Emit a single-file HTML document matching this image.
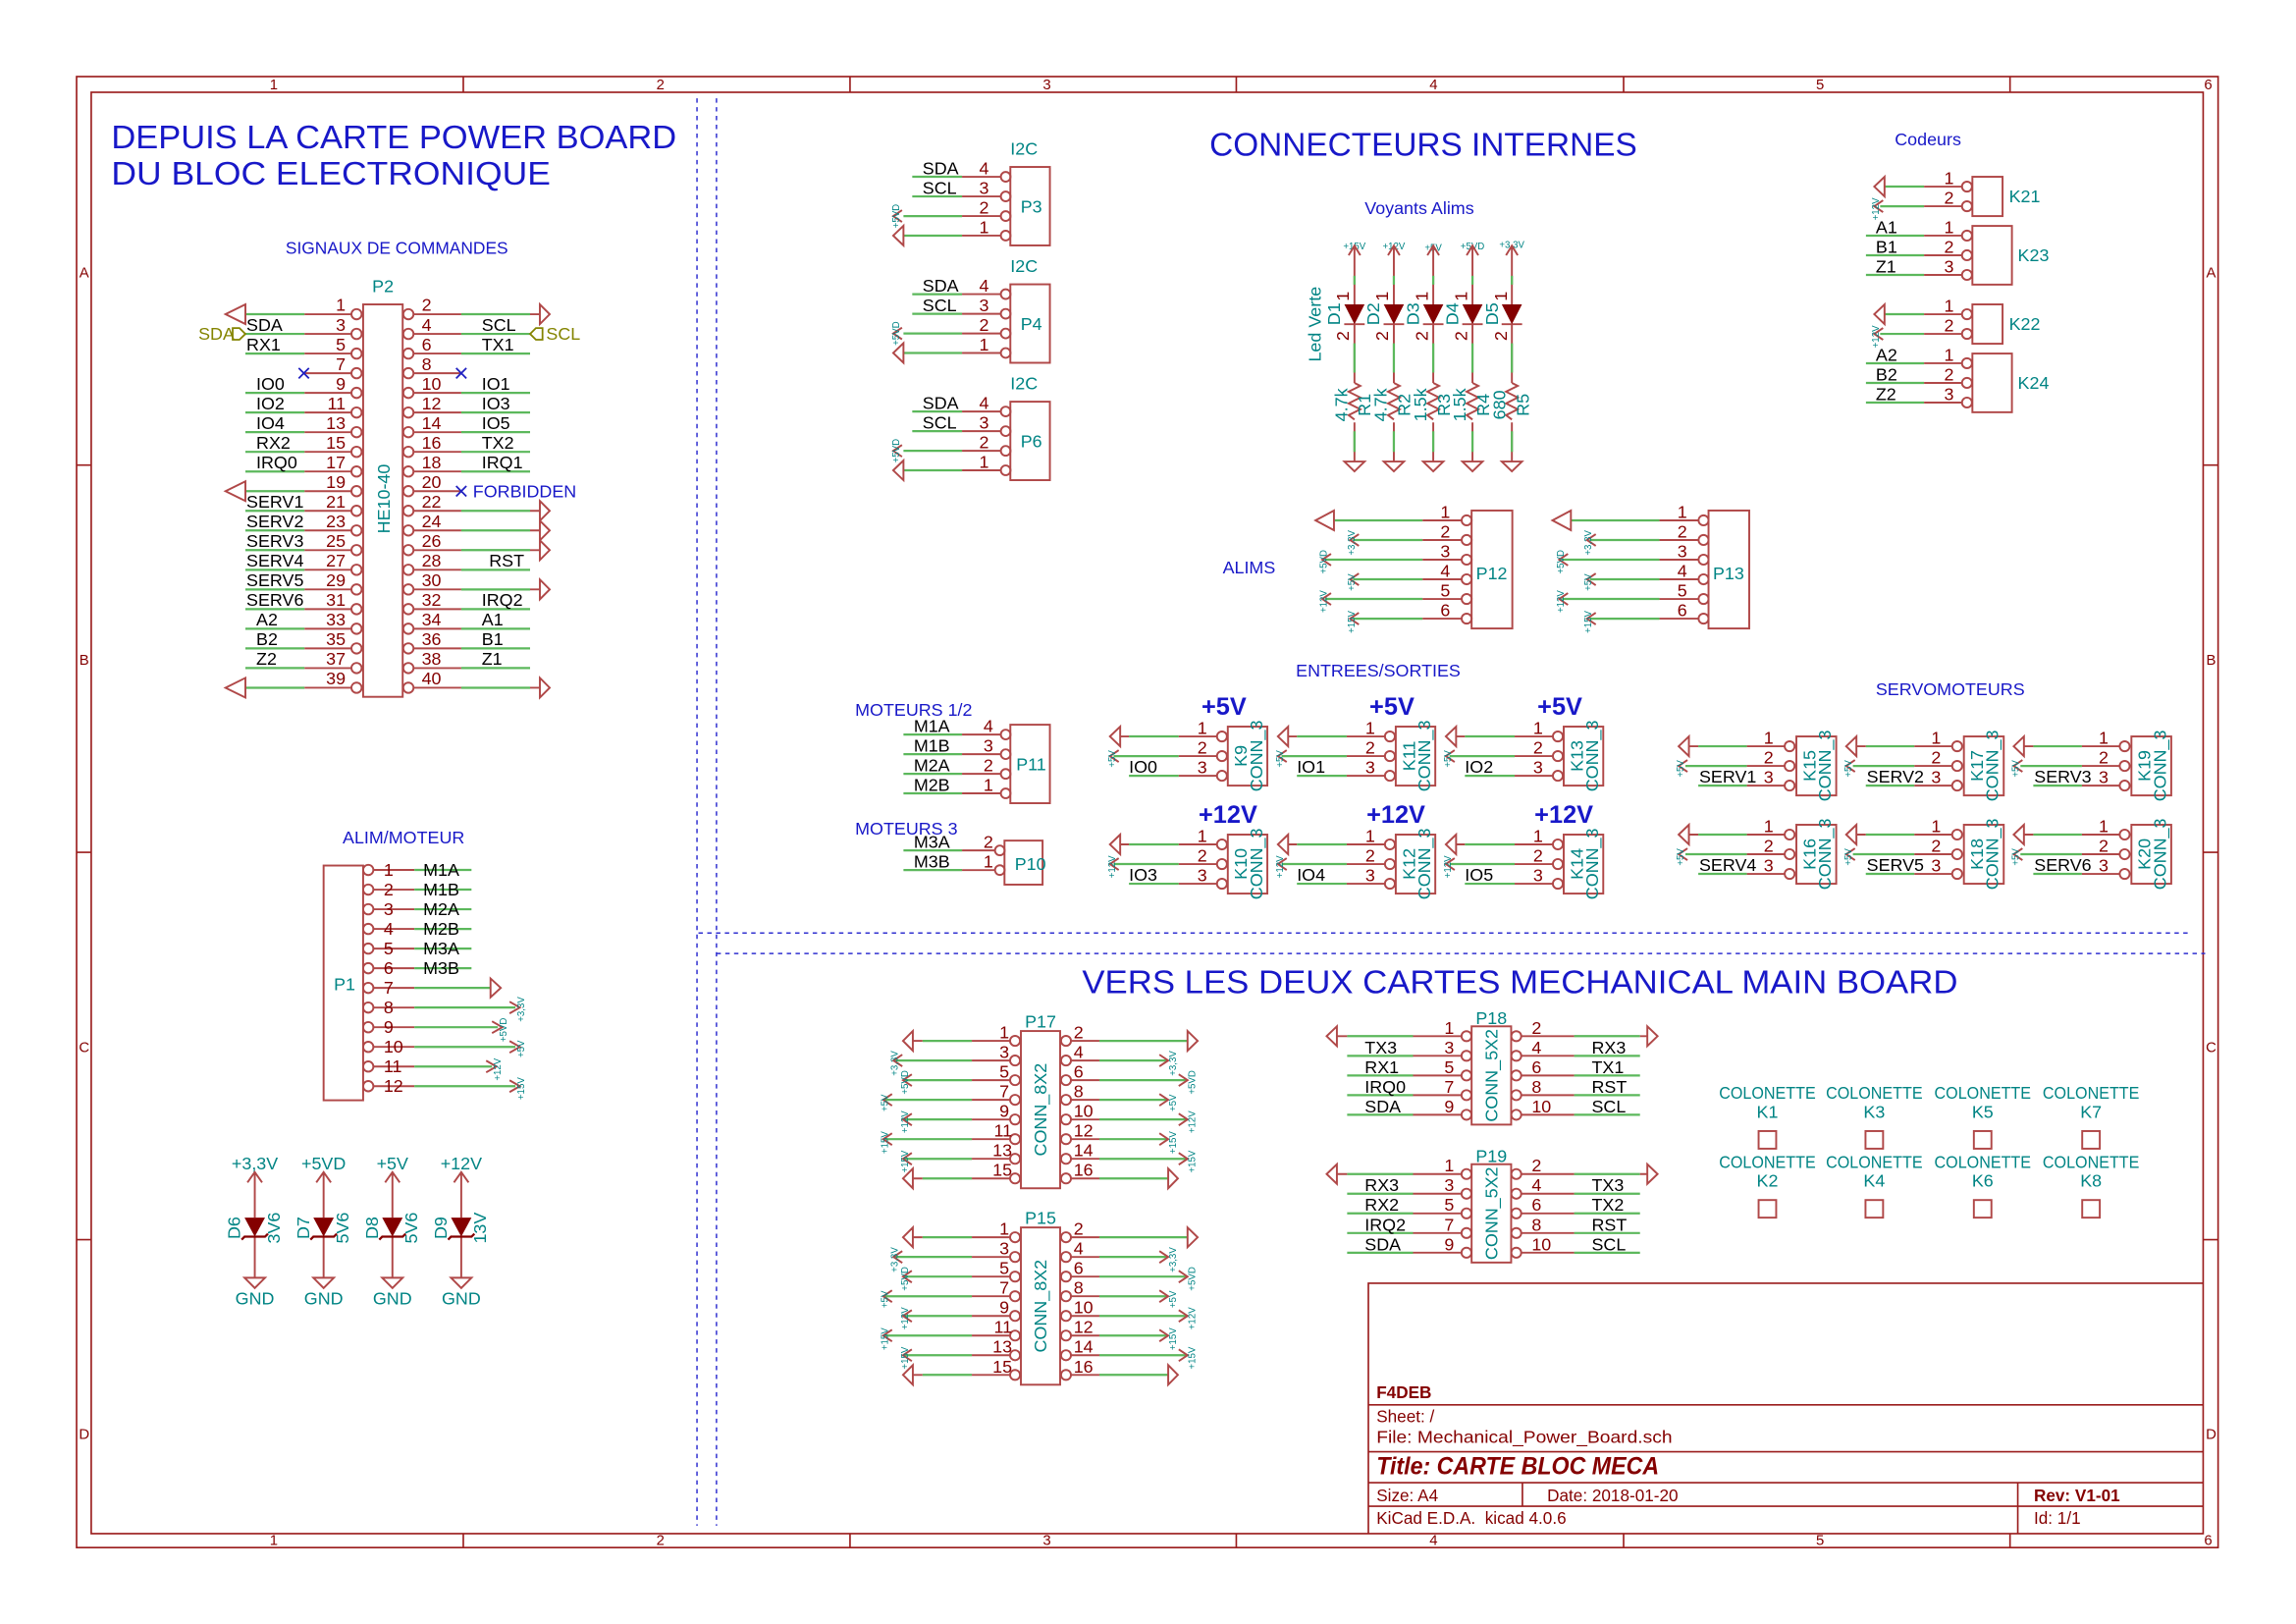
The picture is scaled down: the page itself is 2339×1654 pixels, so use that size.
<!DOCTYPE html>
<html><head><meta charset="utf-8"><style>
html,body{margin:0;padding:0;background:#fff;}
svg{display:block;}
text{font-family:"Liberation Sans",sans-serif;}
.g{stroke:#5cb85c;stroke-width:1.5;fill:none}
.r{stroke:#b04848;stroke-width:1.3;fill:none}
.fr{stroke:#9a1c1c;stroke-width:1.1;fill:none}
.n{fill:#840000;font-size:12px}
.k{fill:#000;font-size:12px}
.t{fill:#008484;font-size:12px}
.s{fill:#008484;font-size:6.5px}
.b{fill:#1818c8}
.f{fill:#840000}
.x{stroke:#2020c0;stroke-width:1.2}
</style></head><body>
<svg width="2339" height="1654" viewBox="0 0 1568 1107" preserveAspectRatio="none" xmlns="http://www.w3.org/2000/svg">
<rect width="1568" height="1107" fill="#fff"/>
<rect class="fr" x="52.3" y="52.2" width="1462.5" height="1002.7"/>
<rect class="fr" x="62.3" y="62.9" width="1442.3" height="982.5"/>
<g class="fr">
<path d="M316.4,52.2V62.9M580.5,52.2V62.9M844.3,52.2V62.9M1108.8,52.2V62.9M1372.7,52.2V62.9"/>
<path d="M316.4,1045.4V1054.9M580.5,1045.4V1054.9M844.3,1045.4V1054.9M1108.8,1045.4V1054.9M1372.7,1045.4V1054.9"/>
<path d="M52.3,317H62.3M52.3,581H62.3M52.3,845H62.3M1504.6,317H1514.8M1504.6,581H1514.8M1504.6,845H1514.8"/>
</g>
<g class="f" font-size="10" text-anchor="middle">
<text x="187" y="61">1</text><text x="451" y="61">2</text><text x="715" y="61">3</text><text x="979" y="61">4</text><text x="1243" y="61">5</text><text x="1508" y="61">6</text>
<text x="187" y="1053">1</text><text x="451" y="1053">2</text><text x="715" y="1053">3</text><text x="979" y="1053">4</text><text x="1243" y="1053">5</text><text x="1508" y="1053">6</text>
<text x="57.5" y="189">A</text><text x="57.5" y="453">B</text><text x="57.5" y="717">C</text><text x="57.5" y="981">D</text>
<text x="1510" y="189">A</text><text x="1510" y="453">B</text><text x="1510" y="717">C</text><text x="1510" y="981">D</text>
</g>
<g stroke="#3030d0" stroke-width="1" stroke-dasharray="3,3" fill="none">
<path d="M476,67V1040M489.3,67V1040M477,636H1495M489.3,650H1506"/>
</g>
<text class="b" x="76" y="101" font-size="22" textLength="386" lengthAdjust="spacingAndGlyphs">DEPUIS LA CARTE POWER BOARD</text>
<text class="b" x="76" y="126" font-size="22" textLength="300" lengthAdjust="spacingAndGlyphs">DU  BLOC ELECTRONIQUE</text>
<text class="b" x="195" y="173" font-size="12" textLength="152" lengthAdjust="spacingAndGlyphs">SIGNAUX DE COMMANDES</text>
<text class="b" x="826" y="106" font-size="22" textLength="292" lengthAdjust="spacingAndGlyphs">CONNECTEURS INTERNES</text>
<text class="b" x="739" y="677" font-size="22" textLength="598" lengthAdjust="spacingAndGlyphs">VERS LES DEUX CARTES MECHANICAL MAIN BOARD</text>
<text class="b" x="1294" y="99" font-size="12">Codeurs</text>
<text class="b" x="932" y="146" font-size="12">Voyants Alims</text>
<text class="b" x="835" y="391" font-size="12">ALIMS</text>
<text class="b" x="885" y="461" font-size="12">ENTREES/SORTIES</text>
<text class="b" x="1281" y="474" font-size="12">SERVOMOTEURS</text>
<text class="b" x="584" y="488" font-size="12">MOTEURS 1/2</text>
<text class="b" x="584" y="569" font-size="12">MOTEURS 3</text>
<text class="b" x="234" y="575" font-size="12">ALIM/MOTEUR</text>

<text class="t" x="261.5" y="199" text-anchor="middle">P2</text>
<rect class="r" x="248" y="207.5" width="27" height="267.5"/>
<text class="t" transform="translate(266,340) rotate(-90)" text-anchor="middle" font-size="11">HE10-40</text>
<g>
<path class="g" d="M167.6,214.2H208M167.6,227.6H208M167.6,241H208M167.6,267.8H208M167.6,281.2H208M167.6,294.6H208M167.6,308H208M167.6,321.4H208M167.6,334.8H208M167.6,348.2H208M167.6,361.6H208M167.6,375H208M167.6,388.4H208M167.6,401.8H208M167.6,415.2H208M167.6,428.6H208M167.6,442H208M167.6,455.4H208M167.6,468.8H208"/>
<path class="r" d="M208,214.2H240M208,227.6H240M208,241H240M207,254.4H240M208,267.8H240M208,281.2H240M208,294.6H240M208,308H240M208,321.4H240M208,334.8H240M208,348.2H240M208,361.6H240M208,375H240M208,388.4H240M208,401.8H240M208,415.2H240M208,428.6H240M208,442H240M208,455.4H240M208,468.8H240"/>
<path class="g" d="M315,214.2H362M315,227.6H362M315,241H362M315,267.8H362M315,281.2H362M315,294.6H362M315,308H362M315,321.4H362M315,348.2H362M315,361.6H362M315,375H362M315,388.4H362M315,401.8H362M315,415.2H362M315,428.6H362M315,442H362M315,455.4H362M315,468.8H362"/>
<path class="r" d="M282,214.2H315M282,227.6H315M282,241H315M282,254.4H315M282,267.8H315M282,281.2H315M282,294.6H315M282,308H315M282,321.4H315M282,334.8H315M282,348.2H315M282,361.6H315M282,375H315M282,388.4H315M282,401.8H315M282,415.2H315M282,428.6H315M282,442H315M282,455.4H315M282,468.8H315"/>
<g class="r" fill="#fff">
<circle cx="243.5" cy="214.2" r="3.5"/><circle cx="243.5" cy="227.6" r="3.5"/><circle cx="243.5" cy="241" r="3.5"/><circle cx="243.5" cy="254.4" r="3.5"/><circle cx="243.5" cy="267.8" r="3.5"/><circle cx="243.5" cy="281.2" r="3.5"/><circle cx="243.5" cy="294.6" r="3.5"/><circle cx="243.5" cy="308" r="3.5"/><circle cx="243.5" cy="321.4" r="3.5"/><circle cx="243.5" cy="334.8" r="3.5"/><circle cx="243.5" cy="348.2" r="3.5"/><circle cx="243.5" cy="361.6" r="3.5"/><circle cx="243.5" cy="375" r="3.5"/><circle cx="243.5" cy="388.4" r="3.5"/><circle cx="243.5" cy="401.8" r="3.5"/><circle cx="243.5" cy="415.2" r="3.5"/><circle cx="243.5" cy="428.6" r="3.5"/><circle cx="243.5" cy="442" r="3.5"/><circle cx="243.5" cy="455.4" r="3.5"/><circle cx="243.5" cy="468.8" r="3.5"/>
<circle cx="278.9" cy="214.2" r="3.5"/><circle cx="278.9" cy="227.6" r="3.5"/><circle cx="278.9" cy="241" r="3.5"/><circle cx="278.9" cy="254.4" r="3.5"/><circle cx="278.9" cy="267.8" r="3.5"/><circle cx="278.9" cy="281.2" r="3.5"/><circle cx="278.9" cy="294.6" r="3.5"/><circle cx="278.9" cy="308" r="3.5"/><circle cx="278.9" cy="321.4" r="3.5"/><circle cx="278.9" cy="334.8" r="3.5"/><circle cx="278.9" cy="348.2" r="3.5"/><circle cx="278.9" cy="361.6" r="3.5"/><circle cx="278.9" cy="375" r="3.5"/><circle cx="278.9" cy="388.4" r="3.5"/><circle cx="278.9" cy="401.8" r="3.5"/><circle cx="278.9" cy="415.2" r="3.5"/><circle cx="278.9" cy="428.6" r="3.5"/><circle cx="278.9" cy="442" r="3.5"/><circle cx="278.9" cy="455.4" r="3.5"/><circle cx="278.9" cy="468.8" r="3.5"/>
</g>
<path class="r" d="M167.6,207.5L154,214.2L167.6,220.9ZM167.6,328.1L154,334.8L167.6,341.5ZM167.6,462.1L154,468.8L167.6,475.5Z"/>
<path class="r" d="M362,214.2H368.7M368.7,207.5L375.4,214.2L368.7,220.9ZM362,348.2H368.7M368.7,341.5L375.4,348.2L368.7,354.9ZM362,361.6H368.7M368.7,354.9L375.4,361.6L368.7,368.3ZM362,375H368.7M368.7,368.3L375.4,375L368.7,381.7ZM362,401.8H368.7M368.7,395.1L375.4,401.8L368.7,408.5ZM362,468.8H368.7M368.7,462.1L375.4,468.8L368.7,475.5Z"/>
<path class="x" d="M204,250.9l7,7M204,257.9l7,-7M311.5,250.9l7,7M311.5,257.9l7,-7M311.5,331.3l7,7M311.5,338.3l7,-7"/>
<text class="b" x="323" y="339" font-size="12">FORBIDDEN</text>
<path d="M158.9,223.6H163.5L167.6,227.6L163.5,231.6H158.9Z" fill="none" stroke="#848400" stroke-width="1.2"/>
<text x="135.5" y="231.6" font-size="12" fill="#848400">SDA</text>
<path d="M370.5,223.6H366L362,227.6L366,231.6H370.5Z" fill="none" stroke="#848400" stroke-width="1.2"/>
<text x="373" y="231.6" font-size="12" fill="#848400">SCL</text>
<g class="n" text-anchor="end">
<text x="236" y="212">1</text><text x="236" y="225.4">3</text><text x="236" y="238.8">5</text><text x="236" y="252.2">7</text><text x="236" y="265.6">9</text><text x="236" y="279">11</text><text x="236" y="292.4">13</text><text x="236" y="305.8">15</text><text x="236" y="319.2">17</text><text x="236" y="332.6">19</text><text x="236" y="346">21</text><text x="236" y="359.4">23</text><text x="236" y="372.8">25</text><text x="236" y="386.2">27</text><text x="236" y="399.6">29</text><text x="236" y="413">31</text><text x="236" y="426.4">33</text><text x="236" y="439.8">35</text><text x="236" y="453.2">37</text><text x="236" y="466.6">39</text>
</g>
<g class="n">
<text x="288" y="212">2</text><text x="288" y="225.4">4</text><text x="288" y="238.8">6</text><text x="288" y="252.2">8</text><text x="288" y="265.6">10</text><text x="288" y="279">12</text><text x="288" y="292.4">14</text><text x="288" y="305.8">16</text><text x="288" y="319.2">18</text><text x="288" y="332.6">20</text><text x="288" y="346">22</text><text x="288" y="359.4">24</text><text x="288" y="372.8">26</text><text x="288" y="386.2">28</text><text x="288" y="399.6">30</text><text x="288" y="413">32</text><text x="288" y="426.4">34</text><text x="288" y="439.8">36</text><text x="288" y="453.2">38</text><text x="288" y="466.6">40</text>
</g>
<g class="k">
<text x="168.3" y="225.4">SDA</text><text x="168.3" y="238.8">RX1</text><text x="175" y="265.6">IO0</text><text x="175" y="279">IO2</text><text x="175" y="292.4">IO4</text><text x="175" y="305.8">RX2</text><text x="175" y="319.2">IRQ0</text><text x="168.3" y="346">SERV1</text><text x="168.3" y="359.4">SERV2</text><text x="168.3" y="372.8">SERV3</text><text x="168.3" y="386.2">SERV4</text><text x="168.3" y="399.6">SERV5</text><text x="168.3" y="413">SERV6</text><text x="175" y="426.4">A2</text><text x="175" y="439.8">B2</text><text x="175" y="453.2">Z2</text>
<text x="329" y="225.4">SCL</text><text x="329" y="238.8">TX1</text><text x="329" y="265.6">IO1</text><text x="329" y="279">IO3</text><text x="329" y="292.4">IO5</text><text x="329" y="305.8">TX2</text><text x="329" y="319.2">IRQ1</text><text x="334" y="386.2">RST</text><text x="329" y="413">IRQ2</text><text x="329" y="426.4">A1</text><text x="329" y="439.8">B1</text><text x="329" y="453.2">Z1</text>
</g>
</g>

<rect class="r" x="221" y="590" width="27" height="160"/>
<text class="t" x="228" y="675">P1</text>
<path class="r" d="M255,593H283M255,606.4H283M255,619.8H283M255,633.2H283M255,646.6H283M255,660H283M255,673.4H283M255,686.8H283M255,700.2H283M255,713.6H283M255,727H283M255,740.4H283"/>
<path class="g" d="M283,593H322M283,606.4H322M283,619.8H322M283,633.2H322M283,646.6H322M283,660H322M283,673.4H335M283,686.8H352M283,700.2H340M283,713.6H352M283,727H336M283,740.4H352"/>
<path class="r" d="M335,667L342,673.4L335,679.8ZM348,682.8L355,686.8L348,690.8M336,696.2L343,700.2L336,704.2M348,709.6L355,713.6L348,717.6M332,723L339,727L332,731M348,736.4L355,740.4L348,744.4"/>
<g class="r" fill="#fff"><circle cx="251.5" cy="593" r="3.5"/><circle cx="251.5" cy="606.4" r="3.5"/><circle cx="251.5" cy="619.8" r="3.5"/><circle cx="251.5" cy="633.2" r="3.5"/><circle cx="251.5" cy="646.6" r="3.5"/><circle cx="251.5" cy="660" r="3.5"/><circle cx="251.5" cy="673.4" r="3.5"/><circle cx="251.5" cy="686.8" r="3.5"/><circle cx="251.5" cy="700.2" r="3.5"/><circle cx="251.5" cy="713.6" r="3.5"/><circle cx="251.5" cy="727" r="3.5"/><circle cx="251.5" cy="740.4" r="3.5"/></g>
<g class="n"><text x="262" y="597">1</text><text x="262" y="610.4">2</text><text x="262" y="623.8">3</text><text x="262" y="637.2">4</text><text x="262" y="650.6">5</text><text x="262" y="664">6</text><text x="262" y="677.4">7</text><text x="262" y="690.8">8</text><text x="262" y="704.2">9</text><text x="262" y="717.6">10</text><text x="262" y="731">11</text><text x="262" y="744.4">12</text></g>
<g class="k"><text x="289" y="597">M1A</text><text x="289" y="610.4">M1B</text><text x="289" y="623.8">M2A</text><text x="289" y="637.2">M2B</text><text x="289" y="650.6">M3A</text><text x="289" y="664">M3B</text></g>
<g class="s" text-anchor="middle">
<text transform="translate(358,688) rotate(-90)">+3,3V</text><text transform="translate(346,702) rotate(-90)">+5VD</text><text transform="translate(358,715) rotate(-90)">+5V</text><text transform="translate(342,729) rotate(-90)">+12V</text><text transform="translate(358,742) rotate(-90)">+15V</text>
</g>

<g>
<g class="t" font-size="9" text-anchor="middle"><text x="174" y="797">+3,3V</text><text x="221" y="797">+5VD</text><text x="268" y="797">+5V</text><text x="315" y="797">+12V</text>
<text x="174" y="889">GND</text><text x="221" y="889">GND</text><text x="268" y="889">GND</text><text x="315" y="889">GND</text></g>
<path class="r" d="M169,806L174,799L179,806M174,799V830M174,843V871M167,871H181L174,878ZM216,806L221,799L226,806M221,799V830M221,843V871M214,871H228L221,878ZM263,806L268,799L273,806M268,799V830M268,843V871M261,871H275L268,878ZM310,806L315,799L320,806M315,799V830M315,843V871M308,871H322L315,878Z"/>
<g fill="#840000"><path d="M167,830H181L174,843Z"/><path d="M214,830H228L221,843Z"/><path d="M261,830H275L268,843Z"/><path d="M308,830H322L315,843Z"/></g>
<path stroke="#840000" stroke-width="1.5" fill="none" d="M165,845L167,843H181L183,841M212,845L214,843H228L230,841M259,845L261,843H275L277,841M306,845L308,843H322L324,841"/>
<g class="t" font-size="9" text-anchor="middle"><text transform="translate(164,837) rotate(-90)">D6</text><text transform="translate(211,837) rotate(-90)">D7</text><text transform="translate(258,837) rotate(-90)">D8</text><text transform="translate(305,837) rotate(-90)">D9</text>
<text transform="translate(191,837) rotate(-90)">3V6</text><text transform="translate(238,837) rotate(-90)">5V6</text><text transform="translate(285,837) rotate(-90)">5V6</text><text transform="translate(332,837) rotate(-90)">13V</text></g>
</g>

<g transform="translate(690,113.8)">
<text class="t" x="0" y="-8.5">I2C</text>
<rect class="r" width="27" height="53.5"/>
<text class="t" x="7" y="31">P3</text>
<path class="g" d="M-67,6.7H-33M-67,20.1H-33M-73,33.5H-33M-73,46.8H-33"/>
<path class="r" d="M-33,6.7H-6.5M-33,20.1H-6.5M-33,33.5H-6.5M-33,46.8H-6.5M-74,29.5L-80,33.5L-74,37.5M-73,40.1L-80,46.8L-73,53.5Z"/>
<g class="r" fill="#fff"><circle cx="-3.2" cy="6.7" r="3.3"/><circle cx="-3.2" cy="20.1" r="3.3"/><circle cx="-3.2" cy="33.5" r="3.3"/><circle cx="-3.2" cy="46.8" r="3.3"/></g>
<g class="n" text-anchor="middle"><text x="-18" y="5">4</text><text x="-18" y="18.4">3</text><text x="-18" y="31.8">2</text><text x="-18" y="45.1">1</text></g>
<g class="k"><text x="-60" y="5">SDA</text><text x="-60" y="18.4">SCL</text></g>
<text class="s" transform="translate(-76,33.5) rotate(-90)" text-anchor="middle">+5VD</text>
</g>
<g transform="translate(690,193.8)">
<text class="t" x="0" y="-8.5">I2C</text>
<rect class="r" width="27" height="53.5"/>
<text class="t" x="7" y="31">P4</text>
<path class="g" d="M-67,6.7H-33M-67,20.1H-33M-73,33.5H-33M-73,46.8H-33"/>
<path class="r" d="M-33,6.7H-6.5M-33,20.1H-6.5M-33,33.5H-6.5M-33,46.8H-6.5M-74,29.5L-80,33.5L-74,37.5M-73,40.1L-80,46.8L-73,53.5Z"/>
<g class="r" fill="#fff"><circle cx="-3.2" cy="6.7" r="3.3"/><circle cx="-3.2" cy="20.1" r="3.3"/><circle cx="-3.2" cy="33.5" r="3.3"/><circle cx="-3.2" cy="46.8" r="3.3"/></g>
<g class="n" text-anchor="middle"><text x="-18" y="5">4</text><text x="-18" y="18.4">3</text><text x="-18" y="31.8">2</text><text x="-18" y="45.1">1</text></g>
<g class="k"><text x="-60" y="5">SDA</text><text x="-60" y="18.4">SCL</text></g>
<text class="s" transform="translate(-76,33.5) rotate(-90)" text-anchor="middle">+5VD</text>
</g>
<g transform="translate(690,273.8)">
<text class="t" x="0" y="-8.5">I2C</text>
<rect class="r" width="27" height="53.5"/>
<text class="t" x="7" y="31">P6</text>
<path class="g" d="M-67,6.7H-33M-67,20.1H-33M-73,33.5H-33M-73,46.8H-33"/>
<path class="r" d="M-33,6.7H-6.5M-33,20.1H-6.5M-33,33.5H-6.5M-33,46.8H-6.5M-74,29.5L-80,33.5L-74,37.5M-73,40.1L-80,46.8L-73,53.5Z"/>
<g class="r" fill="#fff"><circle cx="-3.2" cy="6.7" r="3.3"/><circle cx="-3.2" cy="20.1" r="3.3"/><circle cx="-3.2" cy="33.5" r="3.3"/><circle cx="-3.2" cy="46.8" r="3.3"/></g>
<g class="n" text-anchor="middle"><text x="-18" y="5">4</text><text x="-18" y="18.4">3</text><text x="-18" y="31.8">2</text><text x="-18" y="45.1">1</text></g>
<g class="k"><text x="-60" y="5">SDA</text><text x="-60" y="18.4">SCL</text></g>
<text class="s" transform="translate(-76,33.5) rotate(-90)" text-anchor="middle">+5VD</text>
</g>

<g transform="translate(690,494)">
<rect class="r" width="27" height="53.5"/>
<text class="t" x="4" y="31">P11</text>
<path class="g" d="M-73,6.7H-33M-73,20.1H-33M-73,33.5H-33M-73,46.8H-33"/>
<path class="r" d="M-33,6.7H-6.5M-33,20.1H-6.5M-33,33.5H-6.5M-33,46.8H-6.5"/>
<g class="r" fill="#fff"><circle cx="-3.2" cy="6.7" r="3.3"/><circle cx="-3.2" cy="20.1" r="3.3"/><circle cx="-3.2" cy="33.5" r="3.3"/><circle cx="-3.2" cy="46.8" r="3.3"/></g>
<g class="n" text-anchor="middle"><text x="-15" y="5">4</text><text x="-15" y="18.4">3</text><text x="-15" y="31.8">2</text><text x="-15" y="45.1">1</text></g>
<g class="k"><text x="-66" y="5">M1A</text><text x="-66" y="18.4">M1B</text><text x="-66" y="31.8">M2A</text><text x="-66" y="45.1">M2B</text></g>
</g>
<g transform="translate(686,573)">
<rect class="r" width="26" height="30"/>
<text class="t" x="7" y="20">P10</text>
<path class="g" d="M-69,6.7H-29M-69,20.1H-29"/>
<path class="r" d="M-29,6.7H-6.5M-29,20.1H-6.5"/>
<g class="r" fill="#fff"><circle cx="-3.2" cy="6.7" r="3.3"/><circle cx="-3.2" cy="20.1" r="3.3"/></g>
<g class="n" text-anchor="middle"><text x="-11" y="5">2</text><text x="-11" y="18.4">1</text></g>
<g class="k"><text x="-62" y="5">M3A</text><text x="-62" y="18.4">M3B</text></g>
</g>

<text class="t" transform="translate(902,221) rotate(-90)" text-anchor="middle" font-size="10">Led Verte</text>
<g class="s" text-anchor="middle"><text x="925" y="170">+15V</text><text x="951.9" y="170">+12V</text><text x="978.8" y="171">+5V</text><text x="1005.6" y="170">+5VD</text><text x="1032.5" y="169">+3.3V</text></g>
<g class="r">
<path d="M921,174L925,167.5L929,174M925,167.5V207.5M925,221V261M925,288V314.6M918.1,314.6H931.9L925,321.3ZM925,261l4,2l-8,4l8,4l-8,4l8,4l-8,4l4,3M918,221H932"/>
<path d="M947.9,174L951.9,167.5L955.9,174M951.9,167.5V207.5M951.9,221V261M951.9,288V314.6M945,314.6H958.8L951.9,321.3ZM951.9,261l4,2l-8,4l8,4l-8,4l8,4l-8,4l4,3M944.9,221H958.9"/>
<path d="M974.8,174L978.8,167.5L982.8,174M978.8,167.5V207.5M978.8,221V261M978.8,288V314.6M971.9,314.6H985.7L978.8,321.3ZM978.8,261l4,2l-8,4l8,4l-8,4l8,4l-8,4l4,3M971.8,221H985.8"/>
<path d="M1001.6,174L1005.6,167.5L1009.6,174M1005.6,167.5V207.5M1005.6,221V261M1005.6,288V314.6M998.7,314.6H1012.5L1005.6,321.3ZM1005.6,261l4,2l-8,4l8,4l-8,4l8,4l-8,4l4,3M998.6,221H1012.6"/>
<path d="M1028.5,174L1032.5,167.5L1036.5,174M1032.5,167.5V207.5M1032.5,221V261M1032.5,288V314.6M1025.6,314.6H1039.4L1032.5,321.3ZM1032.5,261l4,2l-8,4l8,4l-8,4l8,4l-8,4l4,3M1025.5,221H1039.5"/>
</g>
<g class="g"><path d="M925,188V194M951.9,188V194M978.8,188V194M1005.6,188V194M1032.5,188V194M925,234V254M951.9,234V254M978.8,234V254M1005.6,234V254M1032.5,234V254M925,294V308M951.9,294V308M978.8,294V308M1005.6,294V308M1032.5,294V308"/></g>
<g fill="#840000"><path d="M918.1,207.5H931.9L925,221Z"/><path d="M945,207.5H958.8L951.9,221Z"/><path d="M971.9,207.5H985.7L978.8,221Z"/><path d="M998.7,207.5H1012.5L1005.6,221Z"/><path d="M1025.6,207.5H1039.4L1032.5,221Z"/></g>
<g class="n" font-size="7" text-anchor="middle"><text transform="translate(921,202) rotate(-90)">1</text><text transform="translate(948,202) rotate(-90)">1</text><text transform="translate(975,202) rotate(-90)">1</text><text transform="translate(1002,202) rotate(-90)">1</text><text transform="translate(1029,202) rotate(-90)">1</text>
<text transform="translate(921,229) rotate(-90)">2</text><text transform="translate(948,229) rotate(-90)">2</text><text transform="translate(975,229) rotate(-90)">2</text><text transform="translate(1002,229) rotate(-90)">2</text><text transform="translate(1029,229) rotate(-90)">2</text></g>
<g class="t" font-size="10" text-anchor="middle"><text transform="translate(915,214) rotate(-90)">D1</text><text transform="translate(942,214) rotate(-90)">D2</text><text transform="translate(969,214) rotate(-90)">D3</text><text transform="translate(996,214) rotate(-90)">D4</text><text transform="translate(1023,214) rotate(-90)">D5</text></g>
<g class="t" font-size="8" text-anchor="middle">
<text transform="translate(920,276) rotate(-90)">4.7k</text><text transform="translate(947,276) rotate(-90)">4.7k</text><text transform="translate(974,276) rotate(-90)">1.5k</text><text transform="translate(1001,276) rotate(-90)">1.5k</text><text transform="translate(1028,276) rotate(-90)">680</text>
<text transform="translate(936,276) rotate(-90)">R1</text><text transform="translate(963,276) rotate(-90)">R2</text><text transform="translate(990,276) rotate(-90)">R3</text><text transform="translate(1017,276) rotate(-90)">R4</text><text transform="translate(1044,276) rotate(-90)">R5</text></g>

<g transform="translate(1005,348)">
<rect class="r" width="27.8" height="80.4"/>
<text class="t" x="3" y="47">P12</text>
<path class="g" d="M-94,6.7H-33.5M-81,20.1H-33.5M-100,33.5H-33.5M-81,46.9H-33.5M-100,60.3H-33.5M-81,73.7H-33.5"/>
<path class="r" d="M-33.5,6.7H-7M-33.5,20.1H-7M-33.5,33.5H-7M-33.5,46.9H-7M-33.5,60.3H-7M-33.5,73.7H-7M-94,0L-106.6,6.7L-94,13.4ZM-77,16.1L-83,20.1L-77,24.1M-96,29.5L-102,33.5L-96,37.5M-77,42.9L-83,46.9L-77,50.9M-96,56.3L-102,60.3L-96,64.3M-77,69.7L-83,73.7L-77,77.7"/>
<g class="r" fill="#fff"><circle cx="-3.4" cy="6.7" r="3.4"/><circle cx="-3.4" cy="20.1" r="3.4"/><circle cx="-3.4" cy="33.5" r="3.4"/><circle cx="-3.4" cy="46.9" r="3.4"/><circle cx="-3.4" cy="60.3" r="3.4"/><circle cx="-3.4" cy="73.7" r="3.4"/></g>
<g class="n" text-anchor="middle"><text x="-18" y="5">1</text><text x="-18" y="18.4">2</text><text x="-18" y="31.8">3</text><text x="-18" y="45.2">4</text><text x="-18" y="58.6">5</text><text x="-18" y="72">6</text></g>
<g class="s" text-anchor="middle"><text transform="translate(-80,22) rotate(-90)">+3,3V</text><text transform="translate(-99,35) rotate(-90)">+5VD</text><text transform="translate(-80,49) rotate(-90)">+5V</text><text transform="translate(-99,62) rotate(-90)">+12V</text><text transform="translate(-80,76) rotate(-90)">+15V</text></g>
</g>
<g transform="translate(1166.8,348)">
<rect class="r" width="27.8" height="80.4"/>
<text class="t" x="3" y="47">P13</text>
<path class="g" d="M-94,6.7H-33.5M-81,20.1H-33.5M-100,33.5H-33.5M-81,46.9H-33.5M-100,60.3H-33.5M-81,73.7H-33.5"/>
<path class="r" d="M-33.5,6.7H-7M-33.5,20.1H-7M-33.5,33.5H-7M-33.5,46.9H-7M-33.5,60.3H-7M-33.5,73.7H-7M-94,0L-106.6,6.7L-94,13.4ZM-77,16.1L-83,20.1L-77,24.1M-96,29.5L-102,33.5L-96,37.5M-77,42.9L-83,46.9L-77,50.9M-96,56.3L-102,60.3L-96,64.3M-77,69.7L-83,73.7L-77,77.7"/>
<g class="r" fill="#fff"><circle cx="-3.4" cy="6.7" r="3.4"/><circle cx="-3.4" cy="20.1" r="3.4"/><circle cx="-3.4" cy="33.5" r="3.4"/><circle cx="-3.4" cy="46.9" r="3.4"/><circle cx="-3.4" cy="60.3" r="3.4"/><circle cx="-3.4" cy="73.7" r="3.4"/></g>
<g class="n" text-anchor="middle"><text x="-18" y="5">1</text><text x="-18" y="18.4">2</text><text x="-18" y="31.8">3</text><text x="-18" y="45.2">4</text><text x="-18" y="58.6">5</text><text x="-18" y="72">6</text></g>
<g class="s" text-anchor="middle"><text transform="translate(-80,22) rotate(-90)">+3,3V</text><text transform="translate(-99,35) rotate(-90)">+5VD</text><text transform="translate(-80,49) rotate(-90)">+5V</text><text transform="translate(-99,62) rotate(-90)">+12V</text><text transform="translate(-80,76) rotate(-90)">+15V</text></g>
</g>

<g transform="translate(1347,120.5)">
<rect class="r" width="20.6" height="26.8"/>
<text class="t" x="25" y="17.5" font-size="11">K21</text>
<path class="g" d="M-60,6.7H-33M-63,20.1H-33"/>
<path class="r" d="M-33,6.7H-7.2M-33,20.1H-7.2M-60,0L-67,6.7L-60,13.4ZM-61,16.1L-67,20.1L-61,24.1"/>
<g class="r" fill="#fff"><circle cx="-3.7" cy="6.7" r="3.4"/><circle cx="-3.7" cy="20.1" r="3.4"/></g>
<g class="n" text-anchor="middle"><text x="-16" y="5">1</text><text x="-16" y="18.4">2</text></g>
<text class="s" transform="translate(-64,22) rotate(-90)" text-anchor="middle">+12V</text>
</g>
<g transform="translate(1347,207.5)">
<rect class="r" width="20.6" height="26.8"/>
<text class="t" x="25" y="17.5" font-size="11">K22</text>
<path class="g" d="M-60,6.7H-33M-63,20.1H-33"/>
<path class="r" d="M-33,6.7H-7.2M-33,20.1H-7.2M-60,0L-67,6.7L-60,13.4ZM-61,16.1L-67,20.1L-61,24.1"/>
<g class="r" fill="#fff"><circle cx="-3.7" cy="6.7" r="3.4"/><circle cx="-3.7" cy="20.1" r="3.4"/></g>
<g class="n" text-anchor="middle"><text x="-16" y="5">1</text><text x="-16" y="18.4">2</text></g>
<text class="s" transform="translate(-64,22) rotate(-90)" text-anchor="middle">+12V</text>
</g>
<g transform="translate(1347,154)">
<rect class="r" width="27" height="40"/>
<text class="t" x="31" y="24" font-size="11">K23</text>
<path class="g" d="M-72.7,6.6H-33M-72.7,20H-33M-72.7,33.4H-33"/>
<path class="r" d="M-33,6.6H-7.2M-33,20H-7.2M-33,33.4H-7.2"/>
<g class="r" fill="#fff"><circle cx="-3.7" cy="6.6" r="3.4"/><circle cx="-3.7" cy="20" r="3.4"/><circle cx="-3.7" cy="33.4" r="3.4"/></g>
<g class="n" text-anchor="middle"><text x="-16" y="4.9">1</text><text x="-16" y="18.3">2</text><text x="-16" y="31.7">3</text></g>
<g class="k"><text x="-66" y="4.9">A1</text><text x="-66" y="18.3">B1</text><text x="-66" y="31.7">Z1</text></g>
</g>
<g transform="translate(1347,241)">
<rect class="r" width="27" height="40"/>
<text class="t" x="31" y="24" font-size="11">K24</text>
<path class="g" d="M-72.7,6.6H-33M-72.7,20H-33M-72.7,33.4H-33"/>
<path class="r" d="M-33,6.6H-7.2M-33,20H-7.2M-33,33.4H-7.2"/>
<g class="r" fill="#fff"><circle cx="-3.7" cy="6.6" r="3.4"/><circle cx="-3.7" cy="20" r="3.4"/><circle cx="-3.7" cy="33.4" r="3.4"/></g>
<g class="n" text-anchor="middle"><text x="-16" y="4.9">1</text><text x="-16" y="18.3">2</text><text x="-16" y="31.7">3</text></g>
<g class="k"><text x="-66" y="4.9">A2</text><text x="-66" y="18.3">B2</text><text x="-66" y="31.7">Z2</text></g>
</g>

<g transform="translate(838.5,495.3)">
<text class="b" x="-18" y="-8" font-size="17" font-weight="bold">+5V</text>
<rect class="r" width="27" height="40.2"/>
<text class="t" transform="translate(13,20) rotate(-90)" text-anchor="middle" font-size="11">K9</text>
<text class="t" transform="translate(23.5,20) rotate(-90)" text-anchor="middle" font-size="7">CONN_3</text>
<path class="g" d="M-67.5,6.7H-33.5M-78,20.1H-33.5M-67.5,33.5H-33.5"/>
<path class="r" d="M-33.5,6.7H-7.3M-33.5,20.1H-7.3M-33.5,33.5H-7.3M-73.5,6.7H-67.5M-73.5,0L-80.5,6.7L-73.5,13.4ZM-74.5,16.1L-80.5,20.1L-74.5,24.1"/>
<g class="r" fill="#fff"><circle cx="-4" cy="6.7" r="3.4"/><circle cx="-4" cy="20.1" r="3.4"/><circle cx="-4" cy="33.5" r="3.4"/></g>
<g class="n" text-anchor="middle"><text x="-17.5" y="5">1</text><text x="-17.5" y="18.4">2</text><text x="-17.5" y="31.8">3</text></g>
<text class="k" x="-67.5" y="31.5">IO0</text>
<text class="s" transform="translate(-77,22) rotate(-90)" text-anchor="middle">+5V</text>
</g>
<g transform="translate(953.2,495.3)">
<text class="b" x="-18" y="-8" font-size="17" font-weight="bold">+5V</text>
<rect class="r" width="27" height="40.2"/>
<text class="t" transform="translate(13,20) rotate(-90)" text-anchor="middle" font-size="11">K11</text>
<text class="t" transform="translate(23.5,20) rotate(-90)" text-anchor="middle" font-size="7">CONN_3</text>
<path class="g" d="M-67.5,6.7H-33.5M-78,20.1H-33.5M-67.5,33.5H-33.5"/>
<path class="r" d="M-33.5,6.7H-7.3M-33.5,20.1H-7.3M-33.5,33.5H-7.3M-73.5,6.7H-67.5M-73.5,0L-80.5,6.7L-73.5,13.4ZM-74.5,16.1L-80.5,20.1L-74.5,24.1"/>
<g class="r" fill="#fff"><circle cx="-4" cy="6.7" r="3.4"/><circle cx="-4" cy="20.1" r="3.4"/><circle cx="-4" cy="33.5" r="3.4"/></g>
<g class="n" text-anchor="middle"><text x="-17.5" y="5">1</text><text x="-17.5" y="18.4">2</text><text x="-17.5" y="31.8">3</text></g>
<text class="k" x="-67.5" y="31.5">IO1</text>
<text class="s" transform="translate(-77,22) rotate(-90)" text-anchor="middle">+5V</text>
</g>
<g transform="translate(1067.9,495.3)">
<text class="b" x="-18" y="-8" font-size="17" font-weight="bold">+5V</text>
<rect class="r" width="27" height="40.2"/>
<text class="t" transform="translate(13,20) rotate(-90)" text-anchor="middle" font-size="11">K13</text>
<text class="t" transform="translate(23.5,20) rotate(-90)" text-anchor="middle" font-size="7">CONN_3</text>
<path class="g" d="M-67.5,6.7H-33.5M-78,20.1H-33.5M-67.5,33.5H-33.5"/>
<path class="r" d="M-33.5,6.7H-7.3M-33.5,20.1H-7.3M-33.5,33.5H-7.3M-73.5,6.7H-67.5M-73.5,0L-80.5,6.7L-73.5,13.4ZM-74.5,16.1L-80.5,20.1L-74.5,24.1"/>
<g class="r" fill="#fff"><circle cx="-4" cy="6.7" r="3.4"/><circle cx="-4" cy="20.1" r="3.4"/><circle cx="-4" cy="33.5" r="3.4"/></g>
<g class="n" text-anchor="middle"><text x="-17.5" y="5">1</text><text x="-17.5" y="18.4">2</text><text x="-17.5" y="31.8">3</text></g>
<text class="k" x="-67.5" y="31.5">IO2</text>
<text class="s" transform="translate(-77,22) rotate(-90)" text-anchor="middle">+5V</text>
</g>
<g transform="translate(838.5,568.9)">
<text class="b" x="-20" y="-8" font-size="17" font-weight="bold">+12V</text>
<rect class="r" width="27" height="40.2"/>
<text class="t" transform="translate(13,20) rotate(-90)" text-anchor="middle" font-size="11">K10</text>
<text class="t" transform="translate(23.5,20) rotate(-90)" text-anchor="middle" font-size="7">CONN_3</text>
<path class="g" d="M-67.5,6.7H-33.5M-78,20.1H-33.5M-67.5,33.5H-33.5"/>
<path class="r" d="M-33.5,6.7H-7.3M-33.5,20.1H-7.3M-33.5,33.5H-7.3M-73.5,6.7H-67.5M-73.5,0L-80.5,6.7L-73.5,13.4ZM-74.5,16.1L-80.5,20.1L-74.5,24.1"/>
<g class="r" fill="#fff"><circle cx="-4" cy="6.7" r="3.4"/><circle cx="-4" cy="20.1" r="3.4"/><circle cx="-4" cy="33.5" r="3.4"/></g>
<g class="n" text-anchor="middle"><text x="-17.5" y="5">1</text><text x="-17.5" y="18.4">2</text><text x="-17.5" y="31.8">3</text></g>
<text class="k" x="-67.5" y="31.5">IO3</text>
<text class="s" transform="translate(-77,22) rotate(-90)" text-anchor="middle">+12V</text>
</g>
<g transform="translate(953.2,568.9)">
<text class="b" x="-20" y="-8" font-size="17" font-weight="bold">+12V</text>
<rect class="r" width="27" height="40.2"/>
<text class="t" transform="translate(13,20) rotate(-90)" text-anchor="middle" font-size="11">K12</text>
<text class="t" transform="translate(23.5,20) rotate(-90)" text-anchor="middle" font-size="7">CONN_3</text>
<path class="g" d="M-67.5,6.7H-33.5M-78,20.1H-33.5M-67.5,33.5H-33.5"/>
<path class="r" d="M-33.5,6.7H-7.3M-33.5,20.1H-7.3M-33.5,33.5H-7.3M-73.5,6.7H-67.5M-73.5,0L-80.5,6.7L-73.5,13.4ZM-74.5,16.1L-80.5,20.1L-74.5,24.1"/>
<g class="r" fill="#fff"><circle cx="-4" cy="6.7" r="3.4"/><circle cx="-4" cy="20.1" r="3.4"/><circle cx="-4" cy="33.5" r="3.4"/></g>
<g class="n" text-anchor="middle"><text x="-17.5" y="5">1</text><text x="-17.5" y="18.4">2</text><text x="-17.5" y="31.8">3</text></g>
<text class="k" x="-67.5" y="31.5">IO4</text>
<text class="s" transform="translate(-77,22) rotate(-90)" text-anchor="middle">+12V</text>
</g>
<g transform="translate(1067.9,568.9)">
<text class="b" x="-20" y="-8" font-size="17" font-weight="bold">+12V</text>
<rect class="r" width="27" height="40.2"/>
<text class="t" transform="translate(13,20) rotate(-90)" text-anchor="middle" font-size="11">K14</text>
<text class="t" transform="translate(23.5,20) rotate(-90)" text-anchor="middle" font-size="7">CONN_3</text>
<path class="g" d="M-67.5,6.7H-33.5M-78,20.1H-33.5M-67.5,33.5H-33.5"/>
<path class="r" d="M-33.5,6.7H-7.3M-33.5,20.1H-7.3M-33.5,33.5H-7.3M-73.5,6.7H-67.5M-73.5,0L-80.5,6.7L-73.5,13.4ZM-74.5,16.1L-80.5,20.1L-74.5,24.1"/>
<g class="r" fill="#fff"><circle cx="-4" cy="6.7" r="3.4"/><circle cx="-4" cy="20.1" r="3.4"/><circle cx="-4" cy="33.5" r="3.4"/></g>
<g class="n" text-anchor="middle"><text x="-17.5" y="5">1</text><text x="-17.5" y="18.4">2</text><text x="-17.5" y="31.8">3</text></g>
<text class="k" x="-67.5" y="31.5">IO5</text>
<text class="s" transform="translate(-77,22) rotate(-90)" text-anchor="middle">+12V</text>
</g>

<g transform="translate(1226.8,502)">
<rect class="r" width="27.2" height="40.2"/>
<text class="t" transform="translate(13,20) rotate(-90)" text-anchor="middle" font-size="11">K15</text>
<text class="t" transform="translate(23.5,20) rotate(-90)" text-anchor="middle" font-size="7">CONN_3</text>
<path class="g" d="M-67,6.7H-33.8M-75.8,20.1H-33.8M-67,33.5H-33.8"/>
<path class="r" d="M-33.8,6.7H-8M-33.8,20.1H-8M-33.8,33.5H-8M-73.4,0L-80.4,6.7L-73.4,13.4ZM-73.4,6.7H-67M-74.4,16.1L-80.4,20.1L-74.4,24.1"/>
<g class="r" fill="#fff"><circle cx="-4.6" cy="6.7" r="3.4"/><circle cx="-4.6" cy="20.1" r="3.4"/><circle cx="-4.6" cy="33.5" r="3.4"/></g>
<g class="n" text-anchor="middle"><text x="-19" y="5">1</text><text x="-19" y="18.4">2</text><text x="-19" y="31.8">3</text></g>
<text class="k" x="-66.4" y="31.5">SERV1</text>
<text class="s" transform="translate(-77,22) rotate(-90)" text-anchor="middle">+5V</text>
</g>
<g transform="translate(1341.2,502)">
<rect class="r" width="27.2" height="40.2"/>
<text class="t" transform="translate(13,20) rotate(-90)" text-anchor="middle" font-size="11">K17</text>
<text class="t" transform="translate(23.5,20) rotate(-90)" text-anchor="middle" font-size="7">CONN_3</text>
<path class="g" d="M-67,6.7H-33.8M-75.8,20.1H-33.8M-67,33.5H-33.8"/>
<path class="r" d="M-33.8,6.7H-8M-33.8,20.1H-8M-33.8,33.5H-8M-73.4,0L-80.4,6.7L-73.4,13.4ZM-73.4,6.7H-67M-74.4,16.1L-80.4,20.1L-74.4,24.1"/>
<g class="r" fill="#fff"><circle cx="-4.6" cy="6.7" r="3.4"/><circle cx="-4.6" cy="20.1" r="3.4"/><circle cx="-4.6" cy="33.5" r="3.4"/></g>
<g class="n" text-anchor="middle"><text x="-19" y="5">1</text><text x="-19" y="18.4">2</text><text x="-19" y="31.8">3</text></g>
<text class="k" x="-66.4" y="31.5">SERV2</text>
<text class="s" transform="translate(-77,22) rotate(-90)" text-anchor="middle">+5V</text>
</g>
<g transform="translate(1455.6,502)">
<rect class="r" width="27.2" height="40.2"/>
<text class="t" transform="translate(13,20) rotate(-90)" text-anchor="middle" font-size="11">K19</text>
<text class="t" transform="translate(23.5,20) rotate(-90)" text-anchor="middle" font-size="7">CONN_3</text>
<path class="g" d="M-67,6.7H-33.8M-75.8,20.1H-33.8M-67,33.5H-33.8"/>
<path class="r" d="M-33.8,6.7H-8M-33.8,20.1H-8M-33.8,33.5H-8M-73.4,0L-80.4,6.7L-73.4,13.4ZM-73.4,6.7H-67M-74.4,16.1L-80.4,20.1L-74.4,24.1"/>
<g class="r" fill="#fff"><circle cx="-4.6" cy="6.7" r="3.4"/><circle cx="-4.6" cy="20.1" r="3.4"/><circle cx="-4.6" cy="33.5" r="3.4"/></g>
<g class="n" text-anchor="middle"><text x="-19" y="5">1</text><text x="-19" y="18.4">2</text><text x="-19" y="31.8">3</text></g>
<text class="k" x="-66.4" y="31.5">SERV3</text>
<text class="s" transform="translate(-77,22) rotate(-90)" text-anchor="middle">+5V</text>
</g>
<g transform="translate(1226.8,562.2)">
<rect class="r" width="27.2" height="40.2"/>
<text class="t" transform="translate(13,20) rotate(-90)" text-anchor="middle" font-size="11">K16</text>
<text class="t" transform="translate(23.5,20) rotate(-90)" text-anchor="middle" font-size="7">CONN_3</text>
<path class="g" d="M-67,6.7H-33.8M-75.8,20.1H-33.8M-67,33.5H-33.8"/>
<path class="r" d="M-33.8,6.7H-8M-33.8,20.1H-8M-33.8,33.5H-8M-73.4,0L-80.4,6.7L-73.4,13.4ZM-73.4,6.7H-67M-74.4,16.1L-80.4,20.1L-74.4,24.1"/>
<g class="r" fill="#fff"><circle cx="-4.6" cy="6.7" r="3.4"/><circle cx="-4.6" cy="20.1" r="3.4"/><circle cx="-4.6" cy="33.5" r="3.4"/></g>
<g class="n" text-anchor="middle"><text x="-19" y="5">1</text><text x="-19" y="18.4">2</text><text x="-19" y="31.8">3</text></g>
<text class="k" x="-66.4" y="31.5">SERV4</text>
<text class="s" transform="translate(-77,22) rotate(-90)" text-anchor="middle">+5V</text>
</g>
<g transform="translate(1341.2,562.2)">
<rect class="r" width="27.2" height="40.2"/>
<text class="t" transform="translate(13,20) rotate(-90)" text-anchor="middle" font-size="11">K18</text>
<text class="t" transform="translate(23.5,20) rotate(-90)" text-anchor="middle" font-size="7">CONN_3</text>
<path class="g" d="M-67,6.7H-33.8M-75.8,20.1H-33.8M-67,33.5H-33.8"/>
<path class="r" d="M-33.8,6.7H-8M-33.8,20.1H-8M-33.8,33.5H-8M-73.4,0L-80.4,6.7L-73.4,13.4ZM-73.4,6.7H-67M-74.4,16.1L-80.4,20.1L-74.4,24.1"/>
<g class="r" fill="#fff"><circle cx="-4.6" cy="6.7" r="3.4"/><circle cx="-4.6" cy="20.1" r="3.4"/><circle cx="-4.6" cy="33.5" r="3.4"/></g>
<g class="n" text-anchor="middle"><text x="-19" y="5">1</text><text x="-19" y="18.4">2</text><text x="-19" y="31.8">3</text></g>
<text class="k" x="-66.4" y="31.5">SERV5</text>
<text class="s" transform="translate(-77,22) rotate(-90)" text-anchor="middle">+5V</text>
</g>
<g transform="translate(1455.6,562.2)">
<rect class="r" width="27.2" height="40.2"/>
<text class="t" transform="translate(13,20) rotate(-90)" text-anchor="middle" font-size="11">K20</text>
<text class="t" transform="translate(23.5,20) rotate(-90)" text-anchor="middle" font-size="7">CONN_3</text>
<path class="g" d="M-67,6.7H-33.8M-75.8,20.1H-33.8M-67,33.5H-33.8"/>
<path class="r" d="M-33.8,6.7H-8M-33.8,20.1H-8M-33.8,33.5H-8M-73.4,0L-80.4,6.7L-73.4,13.4ZM-73.4,6.7H-67M-74.4,16.1L-80.4,20.1L-74.4,24.1"/>
<g class="r" fill="#fff"><circle cx="-4.6" cy="6.7" r="3.4"/><circle cx="-4.6" cy="20.1" r="3.4"/><circle cx="-4.6" cy="33.5" r="3.4"/></g>
<g class="n" text-anchor="middle"><text x="-19" y="5">1</text><text x="-19" y="18.4">2</text><text x="-19" y="31.8">3</text></g>
<text class="k" x="-66.4" y="31.5">SERV6</text>
<text class="s" transform="translate(-77,22) rotate(-90)" text-anchor="middle">+5V</text>
</g>

<g transform="translate(697.2,702.8)">
<text class="t" x="13.4" y="-2.5" text-anchor="middle">P17</text>
<rect class="r" width="26.8" height="107.2"/>
<text class="t" transform="translate(17.5,53.6) rotate(-90)" text-anchor="middle" font-size="11">CONN_8X2</text>
<path class="g" d="M-67.2,6.7H-33.5M-87,20.1H-33.5M-80.5,33.5H-33.5M-94,46.9H-33.5M-80.5,60.3H-33.5M-94,73.7H-33.5M-80.5,87.1H-33.5M-67.2,100.5H-33.5"/>
<path class="r" d="M-33.5,6.7H-7.5M-33.5,20.1H-7.5M-33.5,33.5H-7.5M-33.5,46.9H-7.5M-33.5,60.3H-7.5M-33.5,73.7H-7.5M-33.5,87.1H-7.5M-33.5,100.5H-7.5M-73.8,6.7H-67.2M-73.8,100.5H-67.2M-73.8,0L-80.5,6.7L-73.8,13.4ZM-73.8,93.8L-80.5,100.5L-73.8,107.2ZM-81,16.1L-87,20.1L-81,24.1M-74.5,29.5L-80.5,33.5L-74.5,37.5M-88,42.9L-94,46.9L-88,50.9M-74.5,56.3L-80.5,60.3L-74.5,64.3M-88,69.7L-94,73.7L-88,77.7M-74.5,83.1L-80.5,87.1L-74.5,91.1"/>
<path class="g" d="M53.6,6.7H113.8M53.6,20.1H100.6M53.6,33.5H113.8M53.6,46.9H100.6M53.6,60.3H113.8M53.6,73.7H100.6M53.6,87.1H113.8M53.6,100.5H100.6"/>
<path class="r" d="M34,6.7H53.6M34,20.1H53.6M34,33.5H53.6M34,46.9H53.6M34,60.3H53.6M34,73.7H53.6M34,87.1H53.6M34,100.5H53.6M113.8,0L120.7,6.7L113.8,13.4ZM94.6,16.1L100.6,20.1L94.6,24.1M107.8,29.5L113.8,33.5L107.8,37.5M94.6,42.9L100.6,46.9L94.6,50.9M107.8,56.3L113.8,60.3L107.8,64.3M94.6,69.7L100.6,73.7L94.6,77.7M107.8,83.1L113.8,87.1L107.8,91.1M100.6,93.8L107.2,100.5L100.6,107.2Z"/>
<g class="r" fill="#fff"><circle cx="-4" cy="6.7" r="3.4"/><circle cx="-4" cy="20.1" r="3.4"/><circle cx="-4" cy="33.5" r="3.4"/><circle cx="-4" cy="46.9" r="3.4"/><circle cx="-4" cy="60.3" r="3.4"/><circle cx="-4" cy="73.7" r="3.4"/><circle cx="-4" cy="87.1" r="3.4"/><circle cx="-4" cy="100.5" r="3.4"/>
<circle cx="30.8" cy="6.7" r="3.4"/><circle cx="30.8" cy="20.1" r="3.4"/><circle cx="30.8" cy="33.5" r="3.4"/><circle cx="30.8" cy="46.9" r="3.4"/><circle cx="30.8" cy="60.3" r="3.4"/><circle cx="30.8" cy="73.7" r="3.4"/><circle cx="30.8" cy="87.1" r="3.4"/><circle cx="30.8" cy="100.5" r="3.4"/></g>
<g class="n" text-anchor="end"><text x="-8" y="5">1</text><text x="-8" y="18.4">3</text><text x="-8" y="31.8">5</text><text x="-8" y="45.2">7</text><text x="-8" y="58.6">9</text><text x="-6" y="72">11</text><text x="-6" y="85.4">13</text><text x="-6" y="98.8">15</text></g>
<g class="n"><text x="36" y="5">2</text><text x="36" y="18.4">4</text><text x="36" y="31.8">6</text><text x="36" y="45.2">8</text><text x="36" y="58.6">10</text><text x="36" y="72">12</text><text x="36" y="85.4">14</text><text x="36" y="98.8">16</text></g>
<g class="s" text-anchor="middle"><text transform="translate(-84,22) rotate(-90)">+3,3V</text><text transform="translate(-77,35) rotate(-90)">+5VD</text><text transform="translate(-91,49) rotate(-90)">+5V</text><text transform="translate(-77,62) rotate(-90)">+12V</text><text transform="translate(-91,76) rotate(-90)">+15V</text><text transform="translate(-77,89) rotate(-90)">+15V</text>
<text transform="translate(106,22) rotate(-90)">+3,3V</text><text transform="translate(119,35) rotate(-90)">+5VD</text><text transform="translate(106,49) rotate(-90)">+5V</text><text transform="translate(119,62) rotate(-90)">+12V</text><text transform="translate(106,76) rotate(-90)">+15V</text><text transform="translate(119,89) rotate(-90)">+15V</text></g>
</g>
<g transform="translate(697.2,836.7)">
<text class="t" x="13.4" y="-2.5" text-anchor="middle">P15</text>
<rect class="r" width="26.8" height="107.2"/>
<text class="t" transform="translate(17.5,53.6) rotate(-90)" text-anchor="middle" font-size="11">CONN_8X2</text>
<path class="g" d="M-67.2,6.7H-33.5M-87,20.1H-33.5M-80.5,33.5H-33.5M-94,46.9H-33.5M-80.5,60.3H-33.5M-94,73.7H-33.5M-80.5,87.1H-33.5M-67.2,100.5H-33.5"/>
<path class="r" d="M-33.5,6.7H-7.5M-33.5,20.1H-7.5M-33.5,33.5H-7.5M-33.5,46.9H-7.5M-33.5,60.3H-7.5M-33.5,73.7H-7.5M-33.5,87.1H-7.5M-33.5,100.5H-7.5M-73.8,6.7H-67.2M-73.8,100.5H-67.2M-73.8,0L-80.5,6.7L-73.8,13.4ZM-73.8,93.8L-80.5,100.5L-73.8,107.2ZM-81,16.1L-87,20.1L-81,24.1M-74.5,29.5L-80.5,33.5L-74.5,37.5M-88,42.9L-94,46.9L-88,50.9M-74.5,56.3L-80.5,60.3L-74.5,64.3M-88,69.7L-94,73.7L-88,77.7M-74.5,83.1L-80.5,87.1L-74.5,91.1"/>
<path class="g" d="M53.6,6.7H113.8M53.6,20.1H100.6M53.6,33.5H113.8M53.6,46.9H100.6M53.6,60.3H113.8M53.6,73.7H100.6M53.6,87.1H113.8M53.6,100.5H100.6"/>
<path class="r" d="M34,6.7H53.6M34,20.1H53.6M34,33.5H53.6M34,46.9H53.6M34,60.3H53.6M34,73.7H53.6M34,87.1H53.6M34,100.5H53.6M113.8,0L120.7,6.7L113.8,13.4ZM94.6,16.1L100.6,20.1L94.6,24.1M107.8,29.5L113.8,33.5L107.8,37.5M94.6,42.9L100.6,46.9L94.6,50.9M107.8,56.3L113.8,60.3L107.8,64.3M94.6,69.7L100.6,73.7L94.6,77.7M107.8,83.1L113.8,87.1L107.8,91.1M100.6,93.8L107.2,100.5L100.6,107.2Z"/>
<g class="r" fill="#fff"><circle cx="-4" cy="6.7" r="3.4"/><circle cx="-4" cy="20.1" r="3.4"/><circle cx="-4" cy="33.5" r="3.4"/><circle cx="-4" cy="46.9" r="3.4"/><circle cx="-4" cy="60.3" r="3.4"/><circle cx="-4" cy="73.7" r="3.4"/><circle cx="-4" cy="87.1" r="3.4"/><circle cx="-4" cy="100.5" r="3.4"/>
<circle cx="30.8" cy="6.7" r="3.4"/><circle cx="30.8" cy="20.1" r="3.4"/><circle cx="30.8" cy="33.5" r="3.4"/><circle cx="30.8" cy="46.9" r="3.4"/><circle cx="30.8" cy="60.3" r="3.4"/><circle cx="30.8" cy="73.7" r="3.4"/><circle cx="30.8" cy="87.1" r="3.4"/><circle cx="30.8" cy="100.5" r="3.4"/></g>
<g class="n" text-anchor="end"><text x="-8" y="5">1</text><text x="-8" y="18.4">3</text><text x="-8" y="31.8">5</text><text x="-8" y="45.2">7</text><text x="-8" y="58.6">9</text><text x="-6" y="72">11</text><text x="-6" y="85.4">13</text><text x="-6" y="98.8">15</text></g>
<g class="n"><text x="36" y="5">2</text><text x="36" y="18.4">4</text><text x="36" y="31.8">6</text><text x="36" y="45.2">8</text><text x="36" y="58.6">10</text><text x="36" y="72">12</text><text x="36" y="85.4">14</text><text x="36" y="98.8">16</text></g>
<g class="s" text-anchor="middle"><text transform="translate(-84,22) rotate(-90)">+3,3V</text><text transform="translate(-77,35) rotate(-90)">+5VD</text><text transform="translate(-91,49) rotate(-90)">+5V</text><text transform="translate(-77,62) rotate(-90)">+12V</text><text transform="translate(-91,76) rotate(-90)">+15V</text><text transform="translate(-77,89) rotate(-90)">+15V</text>
<text transform="translate(106,22) rotate(-90)">+3,3V</text><text transform="translate(119,35) rotate(-90)">+5VD</text><text transform="translate(106,49) rotate(-90)">+5V</text><text transform="translate(119,62) rotate(-90)">+12V</text><text transform="translate(106,76) rotate(-90)">+15V</text><text transform="translate(119,89) rotate(-90)">+15V</text></g>
</g>

<g transform="translate(1005,699.6)">
<text class="t" x="13.5" y="-1.5" text-anchor="middle">P18</text>
<rect class="r" width="27" height="67"/>
<text class="t" transform="translate(17.5,33.5) rotate(-90)" text-anchor="middle" font-size="11">CONN_5X2</text>
<path class="g" d="M-85,6.7H-40M-85,20.1H-40M-85,33.5H-40M-85,46.9H-40M-85,60.3H-40"/>
<path class="r" d="M-40,6.7H-7M-40,20.1H-7M-40,33.5H-7M-40,46.9H-7M-40,60.3H-7M-92,6.7H-85M-92,0L-99,6.7L-92,13.4Z"/>
<path class="g" d="M70,6.7H115M70,20.1H115M70,33.5H115M70,46.9H115M70,60.3H115"/>
<path class="r" d="M34,6.7H70M34,20.1H70M34,33.5H70M34,46.9H70M34,60.3H70M115,6.7H120M120,0L127,6.7L120,13.4Z"/>
<g class="r" fill="#fff"><circle cx="-3.5" cy="6.7" r="3.4"/><circle cx="-3.5" cy="20.1" r="3.4"/><circle cx="-3.5" cy="33.5" r="3.4"/><circle cx="-3.5" cy="46.9" r="3.4"/><circle cx="-3.5" cy="60.3" r="3.4"/>
<circle cx="30.5" cy="6.7" r="3.4"/><circle cx="30.5" cy="20.1" r="3.4"/><circle cx="30.5" cy="33.5" r="3.4"/><circle cx="30.5" cy="46.9" r="3.4"/><circle cx="30.5" cy="60.3" r="3.4"/></g>
<g class="n" text-anchor="end"><text x="-12" y="5">1</text><text x="-12" y="18.4">3</text><text x="-12" y="31.8">5</text><text x="-12" y="45.2">7</text><text x="-12" y="58.6">9</text></g>
<g class="n"><text x="41" y="5">2</text><text x="41" y="18.4">4</text><text x="41" y="31.8">6</text><text x="41" y="45.2">8</text><text x="41" y="58.6">10</text></g>
<g class="k"><text x="-73" y="18.4">TX3</text><text x="-73" y="31.8">RX1</text><text x="-73" y="45.2">IRQ0</text><text x="-73" y="58.6">SDA</text>
<text x="82" y="18.4">RX3</text><text x="82" y="31.8">TX1</text><text x="82" y="45.2">RST</text><text x="82" y="58.6">SCL</text></g>
</g>
<g transform="translate(1005,793.6)">
<text class="t" x="13.5" y="-1.5" text-anchor="middle">P19</text>
<rect class="r" width="27" height="67"/>
<text class="t" transform="translate(17.5,33.5) rotate(-90)" text-anchor="middle" font-size="11">CONN_5X2</text>
<path class="g" d="M-85,6.7H-40M-85,20.1H-40M-85,33.5H-40M-85,46.9H-40M-85,60.3H-40"/>
<path class="r" d="M-40,6.7H-7M-40,20.1H-7M-40,33.5H-7M-40,46.9H-7M-40,60.3H-7M-92,6.7H-85M-92,0L-99,6.7L-92,13.4Z"/>
<path class="g" d="M70,6.7H115M70,20.1H115M70,33.5H115M70,46.9H115M70,60.3H115"/>
<path class="r" d="M34,6.7H70M34,20.1H70M34,33.5H70M34,46.9H70M34,60.3H70M115,6.7H120M120,0L127,6.7L120,13.4Z"/>
<g class="r" fill="#fff"><circle cx="-3.5" cy="6.7" r="3.4"/><circle cx="-3.5" cy="20.1" r="3.4"/><circle cx="-3.5" cy="33.5" r="3.4"/><circle cx="-3.5" cy="46.9" r="3.4"/><circle cx="-3.5" cy="60.3" r="3.4"/>
<circle cx="30.5" cy="6.7" r="3.4"/><circle cx="30.5" cy="20.1" r="3.4"/><circle cx="30.5" cy="33.5" r="3.4"/><circle cx="30.5" cy="46.9" r="3.4"/><circle cx="30.5" cy="60.3" r="3.4"/></g>
<g class="n" text-anchor="end"><text x="-12" y="5">1</text><text x="-12" y="18.4">3</text><text x="-12" y="31.8">5</text><text x="-12" y="45.2">7</text><text x="-12" y="58.6">9</text></g>
<g class="n"><text x="41" y="5">2</text><text x="41" y="18.4">4</text><text x="41" y="31.8">6</text><text x="41" y="45.2">8</text><text x="41" y="58.6">10</text></g>
<g class="k"><text x="-73" y="18.4">RX3</text><text x="-73" y="31.8">RX2</text><text x="-73" y="45.2">IRQ2</text><text x="-73" y="58.6">SDA</text>
<text x="82" y="18.4">TX3</text><text x="82" y="31.8">TX2</text><text x="82" y="45.2">RST</text><text x="82" y="58.6">SCL</text></g>
</g>

<g class="t" font-size="10" text-anchor="middle">
<text x="1207" y="749" textLength="66" lengthAdjust="spacingAndGlyphs">COLONETTE</text><text x="1280" y="749" textLength="66" lengthAdjust="spacingAndGlyphs">COLONETTE</text><text x="1354" y="749" textLength="66" lengthAdjust="spacingAndGlyphs">COLONETTE</text><text x="1428" y="749" textLength="66" lengthAdjust="spacingAndGlyphs">COLONETTE</text>
<text x="1207" y="762">K1</text><text x="1280" y="762">K3</text><text x="1354" y="762">K5</text><text x="1428" y="762">K7</text>
<text x="1207" y="796" textLength="66" lengthAdjust="spacingAndGlyphs">COLONETTE</text><text x="1280" y="796" textLength="66" lengthAdjust="spacingAndGlyphs">COLONETTE</text><text x="1354" y="796" textLength="66" lengthAdjust="spacingAndGlyphs">COLONETTE</text><text x="1428" y="796" textLength="66" lengthAdjust="spacingAndGlyphs">COLONETTE</text>
<text x="1207" y="809">K2</text><text x="1280" y="809">K4</text><text x="1354" y="809">K6</text><text x="1428" y="809">K8</text>
</g>
<g class="r"><rect x="1201" y="771" width="12" height="12"/><rect x="1274" y="771" width="12" height="12"/><rect x="1348" y="771" width="12" height="12"/><rect x="1422" y="771" width="12" height="12"/>
<rect x="1201" y="818" width="12" height="12"/><rect x="1274" y="818" width="12" height="12"/><rect x="1348" y="818" width="12" height="12"/><rect x="1422" y="818" width="12" height="12"/></g>

<g class="fr">
<path d="M934.5,1045.4V874.7H1504.6M934.5,957.6H1504.6M934.5,989.6H1504.6M934.5,1010.7H1504.6M934.5,1026.7H1504.6M1039.7,1010.7V1026.7M1378,1010.7V1045.4"/>
</g>
<g class="f" font-size="11.5">
<text x="940" y="953" font-weight="bold">F4DEB</text>
<text x="940" y="969.5">Sheet: /</text>
<text x="940" y="983.6" textLength="202" lengthAdjust="spacingAndGlyphs">File: Mechanical_Power_Board.sch</text>
<text x="940" y="1005" font-size="17" font-weight="bold" font-style="italic" textLength="193" lengthAdjust="spacingAndGlyphs">Title: CARTE BLOC MECA</text>
<text x="940" y="1023.5">Size: A4</text>
<text x="1056.6" y="1023.5">Date: 2018-01-20</text>
<text x="1389" y="1023.5" font-weight="bold">Rev: V1-01</text>
<text x="940" y="1038.6" xml:space="preserve">KiCad E.D.A.  kicad 4.0.6</text>
<text x="1389" y="1038.6">Id: 1/1</text>
</g>
</svg>
</body></html>
